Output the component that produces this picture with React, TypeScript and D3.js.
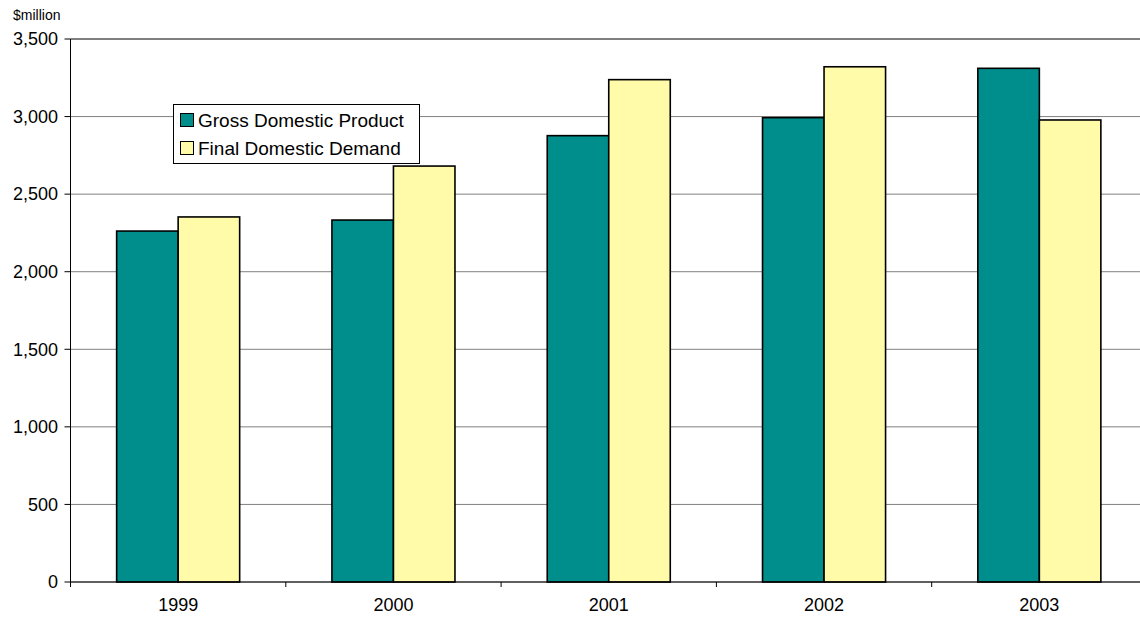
import React from "react";
import * as d3 from "d3";

const years = ["1999", "2000", "2001", "2002", "2003"];
const gdp = [2262, 2333, 2877, 2993, 3311];
const fdd = [2353, 2681, 3238, 3321, 2978];
const seriesNames = ["Gross Domestic Product", "Final Domestic Demand"];
const yTicks = [0, 500, 1000, 1500, 2000, 2500, 3000, 3500];

const W = 1140;
const H = 618;
const left = 70.5;
const right = 1147;
const top = 39;
const bottom = 582;
const colors = ["#008E8C", "#FFFBA8"];
const font = "Liberation Sans, Arial, Helvetica, sans-serif";

export default function App() {
  const x = d3.scaleBand<string>().domain(years).range([left, right]).paddingInner(0).paddingOuter(0);
  const y = d3.scaleLinear().domain([0, 3500]).range([bottom, top]);
  const inner = d3.scaleBand<number>().domain([0, 1]).range([0, x.bandwidth()]).paddingOuter(0.75).paddingInner(0);
  const fmt = d3.format(",");
  const series = [gdp, fdd];
  return (
    <svg width={W} height={H} style={{ position: "absolute", left: 0, top: 0, background: "#fff" }}>
      <text x={13} y={20} fontFamily={font} fontSize={14} fill="#000">$million</text>
      {yTicks.map((t) => (
        <g key={t}>
          <line x1={left} x2={W} y1={y(t)} y2={y(t)} stroke={t === 3500 ? "#000" : "#808080"} strokeWidth={1} />
          <line x1={left - 6} x2={left} y1={y(t)} y2={y(t)} stroke="#000" />
          <text x={58} y={y(t)} dy="0.35em" textAnchor="end" fontFamily={font} fontSize={18} fill="#000">{fmt(t)}</text>
        </g>
      ))}
      {series.map((vals, si) =>
        years.map((yr, i) => (
          <rect key={si + "-" + yr}
            x={(x(yr) as number) + (inner(si) as number)}
            y={y(vals[i])}
            width={inner.bandwidth()}
            height={bottom - y(vals[i])}
            fill={colors[si]} stroke="#000" strokeWidth={1.6} />
        ))
      )}
      <line x1={left} x2={left} y1={top} y2={bottom} stroke="#000" />
      <line x1={left} x2={W} y1={bottom} y2={bottom} stroke="#000" />
      {years.map((yr) => (
        <g key={yr}>
          <line x1={x(yr) as number} x2={x(yr) as number} y1={bottom} y2={bottom + 5} stroke="#000" />
          <text x={(x(yr) as number) + x.bandwidth() / 2} y={611} textAnchor="middle" fontFamily={font} fontSize={18} fill="#000">{yr}</text>
        </g>
      ))}
      <g>
        <rect x={173.5} y={104.5} width={246} height={59} fill="#fff" stroke="#000" strokeWidth={1} />
        {seriesNames.map((n, i) => (
          <g key={n}>
            <rect x={180.5} y={113.5 + i * 28} width={13} height={13} fill={colors[i]} stroke="#000" strokeWidth={1} />
            <text x={198} y={120 + i * 28} dy="0.36em" fontFamily={font} fontSize={19} fill="#000">{n}</text>
          </g>
        ))}
      </g>
    </svg>
  );
}
